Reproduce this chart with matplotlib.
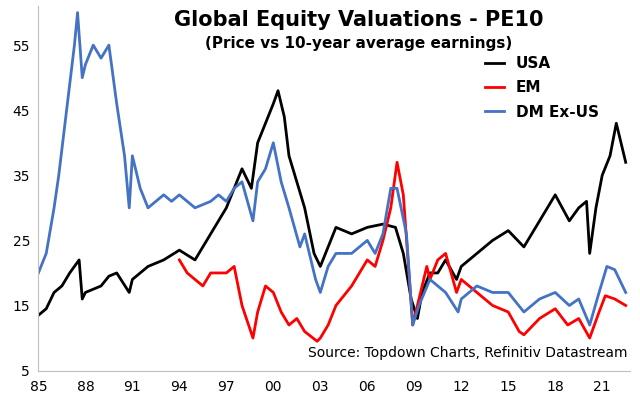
import matplotlib.pyplot as plt

usa_x = [1985, 1985.5, 1986, 1986.5, 1987, 1987.6, 1987.8, 1988, 1989, 1989.5, 1990, 1990.8, 1991, 1992,
         1993, 1994, 1995, 1995.5, 1996, 1996.5, 1997, 1997.5, 1998, 1998.6, 1999, 1999.5, 2000, 2000.3,
         2000.7, 2001, 2001.5, 2002, 2002.6, 2003, 2003.5, 2004, 2005, 2006, 2007, 2007.8, 2008.3, 2008.8,
         2009.2, 2009.5, 2010, 2010.5, 2011, 2011.7, 2012, 2013, 2014, 2015, 2016, 2017, 2018, 2018.9,
         2019.5, 2020, 2020.2, 2020.6, 2021, 2021.5, 2021.9, 2022.2, 2022.5]
usa_y = [13.5, 14.5, 17, 18, 20, 22, 16, 17, 18, 19.5, 20, 17, 19, 21,
         22, 23.5, 22, 24, 26, 28, 30, 33, 36, 33, 40, 43, 46, 48,
         44, 38, 34, 30, 23, 21, 24, 27, 26, 27, 27.5, 27, 23, 16,
         13, 17, 20, 20, 22, 19, 21, 23, 25, 26.5, 24, 28, 32, 28,
         30, 31, 23, 30, 35, 38, 43, 40, 37]

em_x = [1994, 1994.5, 1995, 1995.5, 1996, 1997, 1997.5, 1998, 1998.7, 1999, 1999.5, 2000, 2000.5, 2001,
        2001.5, 2002, 2002.8, 2003, 2003.5, 2004, 2005, 2006, 2006.5, 2007, 2007.5, 2007.9, 2008.3, 2008.9,
        2009.3, 2009.8, 2010, 2010.5, 2011, 2011.7, 2012, 2013, 2014, 2015, 2015.7, 2016, 2017, 2018,
        2018.8, 2019.5, 2020.2, 2020.8, 2021.2, 2021.8, 2022.5]
em_y = [22, 20, 19, 18, 20, 20, 21, 15, 10, 14, 18, 17, 14, 12,
        13, 11, 9.5, 10, 12, 15, 18, 22, 21, 25, 30, 37, 32, 12,
        16, 21, 19, 22, 23, 17, 19, 17, 15, 14, 11, 10.5, 13, 14.5,
        12, 13, 10, 14, 16.5, 16, 15]

dm_x = [1985, 1985.5, 1986, 1986.3, 1986.8, 1987.3, 1987.5, 1987.8, 1988, 1988.5, 1989, 1989.5, 1990,
        1990.5, 1990.8, 1991, 1991.5, 1992, 1993, 1993.5, 1994, 1994.5, 1995, 1996, 1996.5, 1997, 1997.5,
        1998, 1998.7, 1999, 1999.5, 2000, 2000.5, 2001, 2001.7, 2002, 2002.7, 2003, 2003.5, 2004, 2005,
        2006, 2006.5, 2007, 2007.5, 2007.9, 2008.5, 2008.9, 2009.3, 2010, 2011, 2011.8, 2012, 2013, 2014,
        2015, 2016, 2017, 2018, 2018.9, 2019.5, 2020.2, 2020.8, 2021.3, 2021.8, 2022.5]
dm_y = [20, 23, 30, 35, 45, 55, 60, 50, 52, 55, 53, 55, 46,
        38, 30, 38, 33, 30, 32, 31, 32, 31, 30, 31, 32, 31, 33,
        34, 28, 34, 36, 40, 34, 30, 24, 26, 19, 17, 21, 23, 23,
        25, 23, 26, 33, 33, 26, 12, 15, 19, 17, 14, 16, 18, 17,
        17, 14, 16, 17, 15, 16, 12, 17, 21, 20.5, 17]

tick_years = [1985, 1988, 1991, 1994, 1997, 2000, 2003, 2006, 2009, 2012, 2015, 2018, 2021]
tick_labels = ["85", "88", "91", "94", "97", "00", "03", "06", "09", "12", "15", "18", "21"]

fig, ax = plt.subplots(figsize=(6.4, 4.05), dpi=100)
fig.subplots_adjust(left=0.06, right=0.985, top=0.985, bottom=0.085)

ax.plot(usa_x, usa_y, color="black", lw=2, label="USA")
ax.plot(em_x, em_y, color="#ff0000", lw=2, label="EM")
ax.plot(dm_x, dm_y, color="#4472c4", lw=2, label="DM Ex-US")

ax.set_xlim(1985, 2022.8)
ax.set_ylim(5, 61)
ax.set_yticks([5, 15, 25, 35, 45, 55])
ax.set_xticks(tick_years)
ax.set_xticklabels(tick_labels)
ax.tick_params(labelsize=10, length=0)
ax.tick_params(axis="x", pad=7)
ax.tick_params(axis="y", pad=6)
ax.spines["top"].set_visible(False)
ax.spines["right"].set_visible(False)
ax.spines["left"].set_color("#bfbfbf")
ax.spines["bottom"].set_color("#bfbfbf")

fig.text(0.56, 0.975, "Global Equity Valuations - PE10", ha="center", va="top",
         fontsize=15, fontweight="bold")
fig.text(0.56, 0.91, "(Price vs 10-year average earnings)", ha="center", va="top",
         fontsize=11, fontweight="bold")

leg = ax.legend(loc="upper right", bbox_to_anchor=(0.97, 0.9), frameon=False,
                prop={"weight": "bold", "size": 11}, handlelength=1.2, labelspacing=0.6)

ax.text(0.995, 0.03, "Source: Topdown Charts, Refinitiv Datastream", transform=ax.transAxes,
        ha="right", va="bottom", fontsize=10)

fig.savefig("out.png")
